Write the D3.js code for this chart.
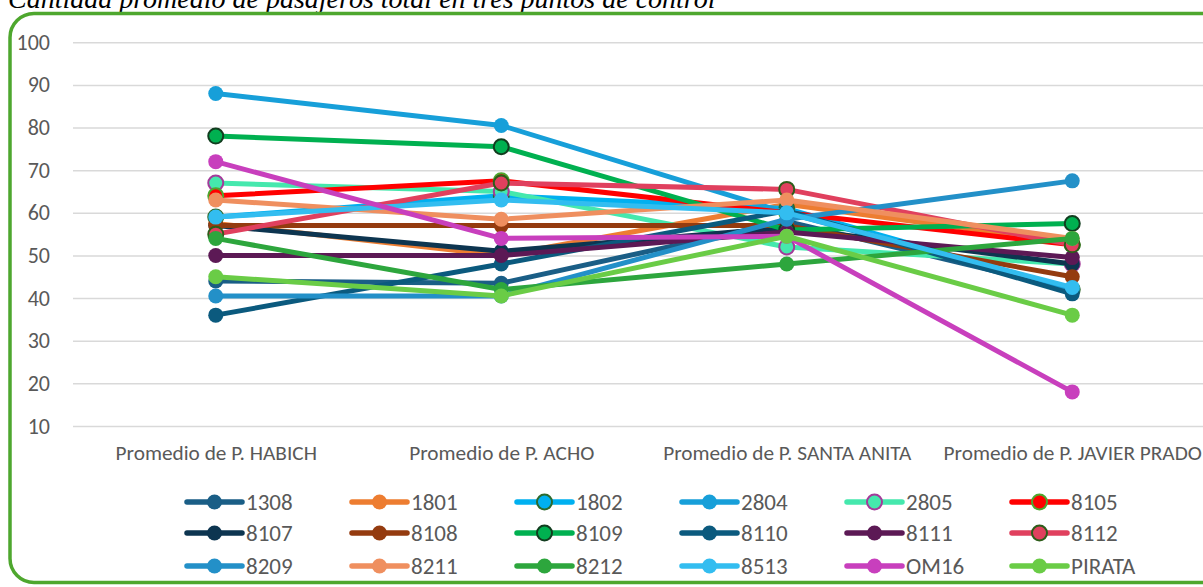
<!DOCTYPE html>
<html><head><meta charset="utf-8">
<script src="https://cdn.jsdelivr.net/npm/d3@7/dist/d3.min.js"></script>
<style>body{margin:0;background:#fff;} svg{display:block;}</style>
</head><body>
<svg id="chart" width="1203" height="587"></svg>
<script>
const categories = ["Promedio de P. HABICH", "Promedio de P. ACHO", "Promedio de P. SANTA ANITA", "Promedio de P. JAVIER PRADO"];
const seriesNames = ["1308","1801","1802","2804","2805","8105","8107","8108","8109","8110","8111","8112","8209","8211","8212","8513","OM16","PIRATA"];
const s1308 = [44, 43.5, 58, 42];
const s1801 = [57.5, 50, 62, 53];
const s1802 = [59, 64, 61, 42];
const s2804 = [88, 80.5, 60, 42];
const s2805 = [67, 65, 52, 48];
const s8105 = [64, 67.5, 60, 52.5];
const s8107 = [57, 51, 56.5, 48];
const s8108 = [57, 57, 57, 45];
const s8109 = [78, 75.5, 56, 57.5];
const s8110 = [36, 48, 60.5, 41];
const s8111 = [50, 50, 55.5, 49.5];
const s8112 = [55, 67, 65.5, 52.5];
const s8209 = [40.5, 40.5, 58.5, 67.5];
const s8211 = [63, 58.5, 63, 54];
const s8212 = [54, 42, 48, 54];
const s8513 = [59, 63, 60, 42.5];
const sOM16 = [72, 54, 54.5, 18];
const sPIRATA = [45, 40.5, 54.5, 36];
const yTicks = [10,20,30,40,50,60,70,80,90,100];
const titleText = "Cantidad promedio de pasajeros total en tres puntos de control";

const seriesValues = [s1308,s1801,s1802,s2804,s2805,s8105,s8107,s8108,s8109,s8110,s8111,s8112,s8209,s8211,s8212,s8513,sOM16,sPIRATA];
const lineColors = ["#1a5e86","#ed7d31","#00b0f0","#179fd9","#45e8ad","#ff0000","#0d3550","#943b0f","#00b050","#0b5a7e","#5c1955","#e0405e","#2390c8","#ef8f5f","#2da63d","#33bdf0","#c83fbd","#6acc46"];
const markerStroke = {"1802":"#2d6a2d","2805":"#a43b9a","8105":"#4ea72e","8109":"#123d1f","8112":"#2d5d1a"};

const svg = d3.select("#chart");
// title (cut off at top, as in the reference)
svg.append("text").attr("x", 8).attr("y", 8)
  .attr("font-family", "Liberation Serif, Times New Roman, serif")
  .attr("font-style", "italic").attr("font-size", 28).attr("fill", "#000")
  .text(titleText);
// border
svg.append("rect").attr("x", 10).attr("y", 13.5).attr("width", 1220).attr("height", 569)
  .attr("rx", 24).attr("fill", "none").attr("stroke", "#4ea72e").attr("stroke-width", 3.5);

const x = d3.scalePoint().domain(categories).range([215.75, 1072.25]);
const y = d3.scaleLinear().domain([10,100]).range([426, 42.3]);
const font = "Carlito, Calibri, 'Open Sans', 'Liberation Sans', sans-serif";

const yAxis = d3.axisLeft(y).tickValues(yTicks).tickSize(-(1215-73)).tickPadding(23);
const gy = svg.append("g").attr("transform", "translate(73,0)").call(yAxis);
gy.select(".domain").remove();
gy.selectAll(".tick line").attr("stroke", "#d9d9d9").attr("stroke-width", 1.5);
gy.selectAll(".tick text").attr("font-family", font).attr("font-size", 22).attr("fill", "#595959");

const xAxis = d3.axisBottom(x).tickSize(0).tickPadding(19);
const gx = svg.append("g").attr("transform", "translate(0,426)").call(xAxis);
gx.select(".domain").remove();
gx.selectAll(".tick text").attr("font-family", font).attr("font-size", 21.3).attr("fill", "#595959");

const line = d3.line().x((d,i)=>x(categories[i])).y(d=>y(d));
const plot = svg.append("g");
seriesNames.forEach((name, k) => {
  const vals = seriesValues[k];
  const g = plot.append("g");
  g.append("path").attr("d", line(vals)).attr("fill","none")
    .attr("stroke", lineColors[k]).attr("stroke-width", 5).attr("stroke-linejoin","round").attr("stroke-linecap","round");
  g.selectAll("circle").data(vals).join("circle")
    .attr("cx", (d,i)=>x(categories[i])).attr("cy", d=>y(d)).attr("r", 7.5)
    .attr("fill", lineColors[k])
    .attr("stroke", markerStroke[name] || "none").attr("stroke-width", markerStroke[name] ? 2 : 0);
});

// legend
const legend = svg.append("g");
const colX = [187, 352, 517, 682, 847, 1012];
const rowY = [502, 533, 566];
seriesNames.forEach((name, k) => {
  const cx = colX[k % 6], cy = rowY[Math.floor(k / 6)];
  const g = legend.append("g").attr("transform", `translate(${cx},${cy})`);
  g.append("line").attr("x1", 0).attr("x2", 55).attr("y1", 0).attr("y2", 0)
    .attr("stroke", lineColors[k]).attr("stroke-width", 5.5).attr("stroke-linecap","round");
  g.append("circle").attr("cx", 27.5).attr("cy", 0).attr("r", 7.5).attr("fill", lineColors[k])
    .attr("stroke", markerStroke[name] || "none").attr("stroke-width", markerStroke[name] ? 2 : 0);
  g.append("text").attr("x", 59).attr("y", 0).attr("dy", "0.35em")
    .attr("font-family", font).attr("font-size", 23).attr("fill", "#595959").text(name);
});
</script>
</body></html>
